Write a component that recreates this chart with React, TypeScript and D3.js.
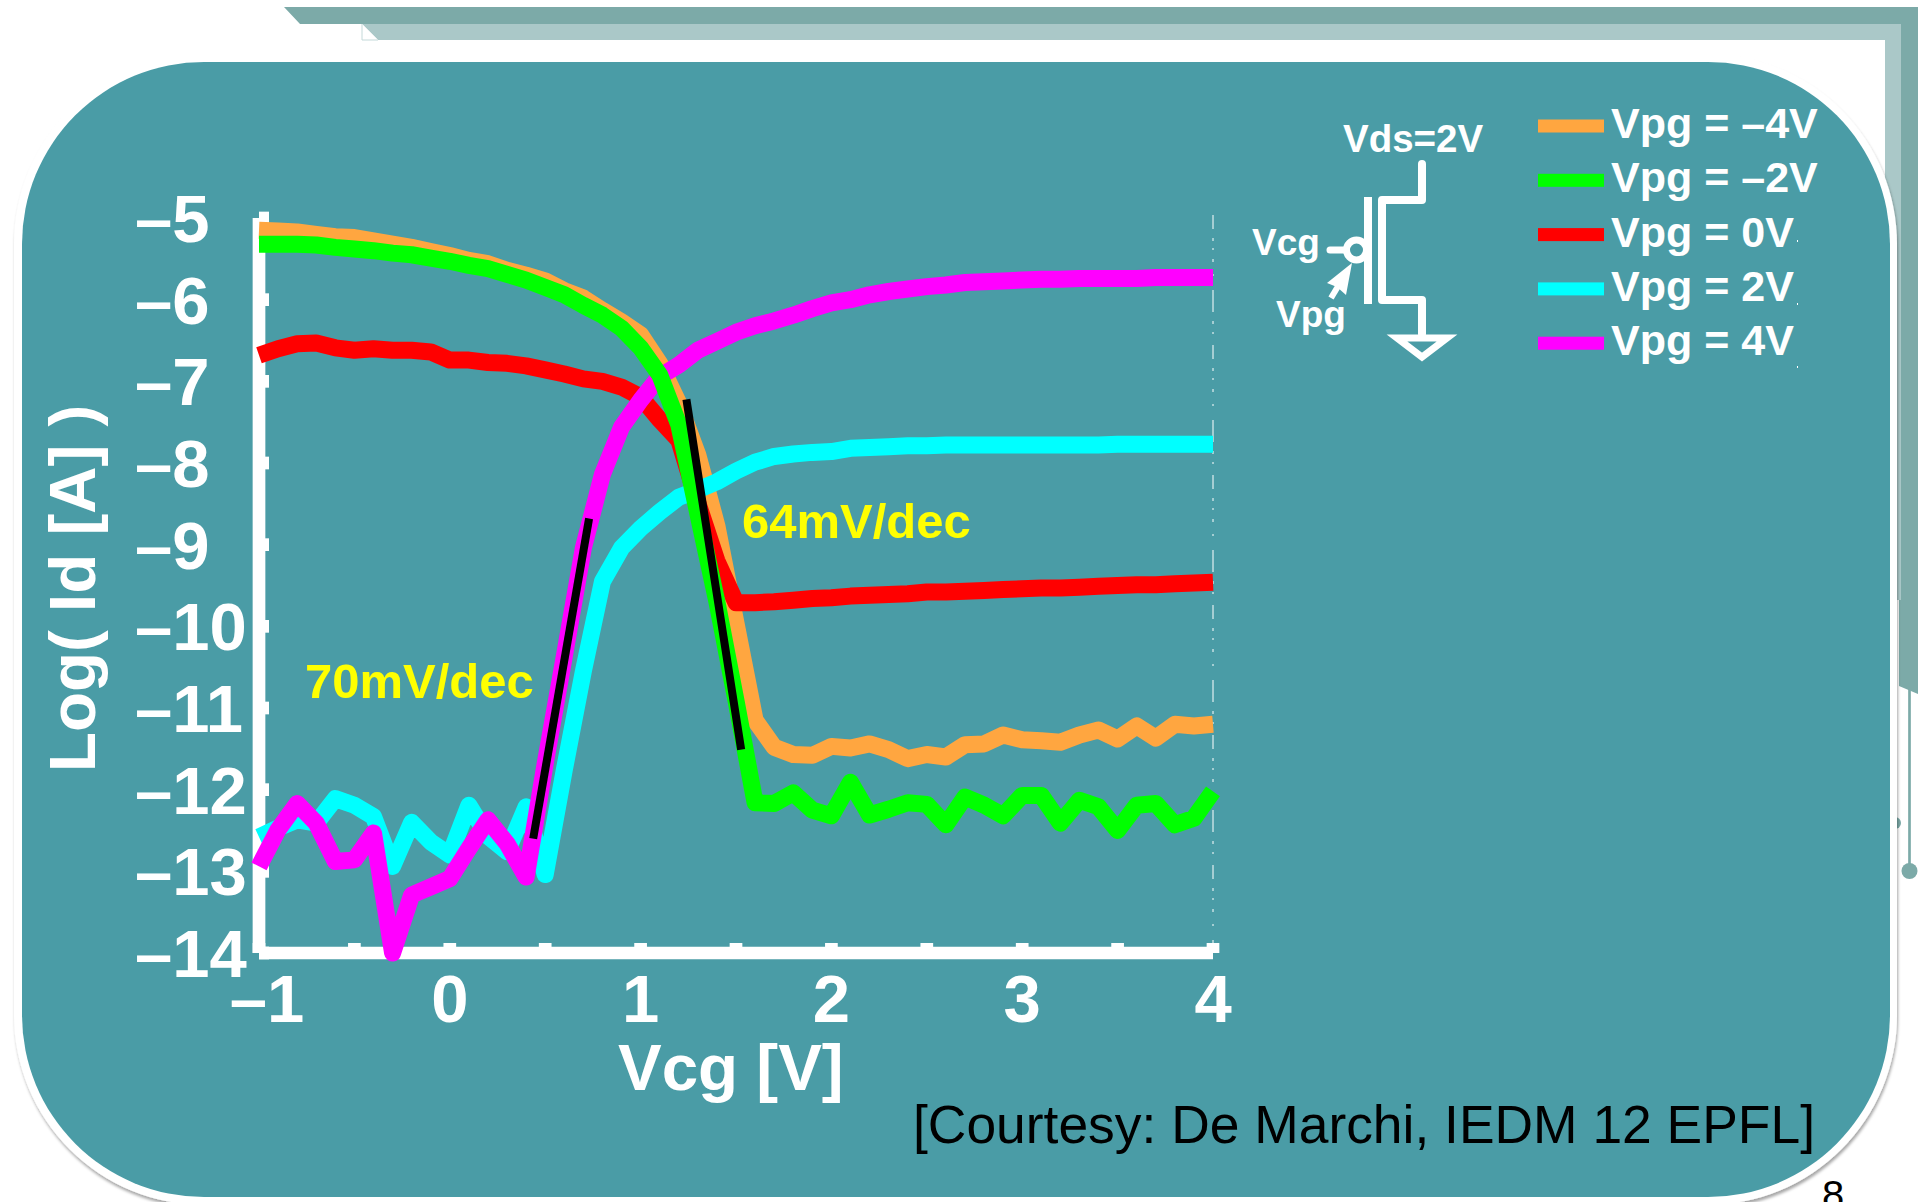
import React, { useEffect, useRef } from 'react';
import * as d3 from 'd3';

// gate sweep, 100mV steps
const vcg = [
  -1.0, -0.9, -0.8, -0.7, -0.6, -0.5, -0.4, -0.3, -0.2, -0.1,
  0.0, 0.1, 0.2, 0.3, 0.4, 0.5, 0.6, 0.7, 0.8, 0.9,
  1.0, 1.1, 1.2, 1.3, 1.4, 1.5, 1.6, 1.7, 1.8, 1.9,
  2.0, 2.1, 2.2, 2.3, 2.4, 2.5, 2.6, 2.7, 2.8, 2.9,
  3.0, 3.1, 3.2, 3.3, 3.4, 3.5, 3.6, 3.7, 3.8, 3.9, 4.0,
];

const vpgMinus4 = [
  -5.15, -5.16, -5.17, -5.20, -5.23, -5.24, -5.28, -5.32, -5.36, -5.41,
  -5.46, -5.52, -5.56, -5.64, -5.70, -5.77, -5.89, -5.98, -6.13, -6.27,
  -6.43, -6.78, -7.27, -7.90, -8.77, -9.96, -11.15, -11.48, -11.57, -11.58,
  -11.47, -11.49, -11.44, -11.51, -11.62, -11.57, -11.60, -11.45, -11.44, -11.33,
  -11.39, -11.40, -11.42, -11.33, -11.27, -11.38, -11.22, -11.37, -11.20, -11.22, -11.20,
];
const vpgMinus2 = [
  -5.32, -5.32, -5.32, -5.33, -5.36, -5.38, -5.40, -5.43, -5.45, -5.49,
  -5.53, -5.58, -5.62, -5.69, -5.76, -5.85, -5.94, -6.07, -6.19, -6.35,
  -6.59, -6.92, -7.53, -8.62, -9.70, -10.91, -12.16, -12.17, -12.04, -12.25,
  -12.32, -11.91, -12.31, -12.24, -12.16, -12.18, -12.43, -12.09, -12.19, -12.32,
  -12.07, -12.07, -12.41, -12.13, -12.21, -12.50, -12.19, -12.17, -12.43, -12.35, -12.02,
];
const vpgZero = [
  -6.68, -6.60, -6.54, -6.53, -6.59, -6.62, -6.60, -6.62, -6.62, -6.64,
  -6.74, -6.74, -6.77, -6.78, -6.81, -6.86, -6.91, -6.97, -7.00, -7.07,
  -7.19, -7.47, -7.72, -8.49, -9.20, -9.71, -9.71, -9.70, -9.68, -9.66,
  -9.65, -9.63, -9.62, -9.61, -9.60, -9.58, -9.58, -9.57, -9.56, -9.55,
  -9.54, -9.53, -9.53, -9.52, -9.51, -9.50, -9.49, -9.49, -9.48, -9.47, -9.46,
];
const vpgPlus2 = [
  -12.58, -12.47, -12.37, -12.41, -12.11, -12.19, -12.33, -12.94, -12.40, -12.64,
  -12.80, -12.19, -12.57, -12.76, -12.21, -13.04, -11.76, -10.55, -9.45, -9.04,
  -8.80, -8.60, -8.42, -8.33, -8.23, -8.10, -7.99, -7.92, -7.89, -7.87,
  -7.86, -7.82, -7.81, -7.80, -7.79, -7.79, -7.78, -7.78, -7.78, -7.78,
  -7.78, -7.78, -7.78, -7.78, -7.78, -7.77, -7.77, -7.77, -7.77, -7.77, -7.77,
];
const vpgPlus4 = [
  -12.94, -12.49, -12.17, -12.41, -12.88, -12.86, -12.53, -14.0, -13.29, -13.19,
  -13.09, -12.72, -12.37, -12.66, -13.07, -11.68, -10.37, -9.04, -8.14, -7.56,
  -7.23, -6.94, -6.80, -6.62, -6.51, -6.40, -6.32, -6.26, -6.19, -6.11,
  -6.04, -6.00, -5.94, -5.90, -5.87, -5.84, -5.82, -5.79, -5.78, -5.77,
  -5.76, -5.75, -5.75, -5.74, -5.74, -5.74, -5.74, -5.73, -5.73, -5.73, -5.73,
];

// draw order differs from the legend order: green sits on top
const drawOrder = [
  { values: vpgMinus4, color: '#ffa640' },
  { values: vpgZero, color: '#ff0000' },
  { values: vpgPlus2, color: '#00ffff' },
  { values: vpgPlus4, color: '#ff00ff' },
  { values: vpgMinus2, color: '#00ff00' },
];

const legendLabels = ['Vpg = –4V', 'Vpg = –2V', 'Vpg = 0V', 'Vpg = 2V', 'Vpg = 4V'];
const legendColors = ['#ffa640', '#00ff00', '#ff0000', '#00ffff', '#ff00ff'];

// subthreshold slope fits, [Vcg, log Id]
const slopeFits = [
  [[0.437, -12.6], [0.73, -8.68]],
  [[1.24, -7.22], [1.527, -11.51]],
];

const xTicks = [-1, -0.5, 0, 0.5, 1, 1.5, 2, 2.5, 3, 3.5, 4];
const yTicks = [-14, -13, -12, -11, -10, -9, -8, -7, -6, -5];

const FONT = '"Liberation Sans", Arial, sans-serif';
const TEAL = '#4a9ca6';

export default function App() {
  const svgRef = useRef<SVGSVGElement>(null);

  useEffect(() => {
    if (!svgRef.current) return;
    const svg = d3.select(svgRef.current);
    svg.selectAll('*').remove();

    const xScale = d3.scaleLinear().domain([-1, 4]).range([259, 1213]);
    const yScale = d3.scaleLinear().domain([-14, -5]).range([953, 218]);

    // slide decoration behind the panel
    const deco = svg.append('g');
    deco.append('path').attr('d', 'M284,7 H1918 V694 L1899,686 V24 H300 Z').attr('fill', '#7caaa8');
    deco.append('path').attr('d', 'M362,24 H1901 V600 H1885 V40 H378 Z').attr('fill', '#aac8c8');
    deco.append('path').attr('d', 'M362,24 V40 H378').attr('fill', 'white').attr('stroke', '#c4d9d9');
    deco.append('line').attr('x1', 1909.5).attr('x2', 1909.5).attr('y1', 688).attr('y2', 871)
      .attr('stroke', '#7caaa8').attr('stroke-width', 2.7);
    deco.append('circle').attr('cx', 1909.5).attr('cy', 871).attr('r', 8).attr('fill', '#7caaa8');
    deco.append('circle').attr('cx', 1895).attr('cy', 823).attr('r', 6).attr('fill', '#7caaa8');

    // panel
    const defs = svg.append('defs');
    const shadow = defs.append('filter').attr('id', 'panelShadow')
      .attr('x', '-5%').attr('y', '-5%').attr('width', '110%').attr('height', '110%');
    shadow.append('feDropShadow').attr('dx', 1).attr('dy', 3).attr('stdDeviation', 1.5)
      .attr('flood-color', '#000').attr('flood-opacity', 0.35);
    svg.append('rect').attr('x', 14).attr('y', 54).attr('width', 1883).attr('height', 1151)
      .attr('rx', 190).attr('fill', 'white').attr('filter', 'url(#panelShadow)');
    svg.append('rect').attr('x', 22).attr('y', 62).attr('width', 1868).attr('height', 1135)
      .attr('rx', 182).attr('fill', TEAL);

    // right edge dotted line
    svg.append('line').attr('x1', 1213).attr('x2', 1213).attr('y1', 215).attr('y2', 945)
      .attr('stroke', 'white').attr('stroke-width', 1)
      .attr('stroke-dasharray', '14 9 3 7 2 9 3 12 2 14 22 9 3 8 2 11');

    // Axes
    const xAxis = svg.append('g')
      .attr('transform', 'translate(0, 953)')
      .call(d3.axisBottom(xScale).tickValues(xTicks).tickSize(-10).tickSizeOuter(0).offset(0)
        .tickFormat(d => (Number.isInteger(+d) ? String(d).replace('-', '–') : '')));
    const yAxis = svg.append('g')
      .attr('transform', 'translate(259, 0)')
      .call(d3.axisLeft(yScale).tickValues(yTicks).tickSize(-10).tickSizeOuter(0).offset(0)
        .tickFormat(d => String(d).replace('-', '–')));

    [xAxis, yAxis].forEach(axis => {
      axis.attr('fill', null).attr('font-family', null).attr('font-size', null);
      axis.selectAll('.domain').attr('stroke', 'white').attr('stroke-width', 12.7);
      axis.selectAll('.tick line').attr('stroke', 'white').attr('stroke-width', 12.7);
      axis.selectAll('text').attr('fill', 'white')
        .attr('font-family', FONT).attr('font-size', 67).attr('font-weight', 700);
    });
    xAxis.selectAll('.tick text').attr('y', 69).attr('dy', 0)
      .attr('dx', (d: any) => (d === -1 ? 8 : 0));
    yAxis.selectAll('.tick text').attr('x', -124).attr('y', 24).attr('dy', 0)
      .attr('text-anchor', 'start');

    // Curves
    const line = d3.line<number>()
      .x((_, i) => xScale(vcg[i]))
      .y(d => yScale(d));
    svg.append('g')
      .selectAll('path')
      .data(drawOrder)
      .enter()
      .append('path')
      .attr('d', d => line(d.values))
      .attr('fill', 'none')
      .attr('stroke', d => d.color)
      .attr('stroke-width', 17)
      .attr('stroke-linejoin', 'round');

    svg.append('g')
      .selectAll('line')
      .data(slopeFits)
      .enter()
      .append('line')
      .attr('x1', d => xScale(d[0][0]))
      .attr('y1', d => yScale(d[0][1]))
      .attr('x2', d => xScale(d[1][0]))
      .attr('y2', d => yScale(d[1][1]))
      .attr('stroke', 'black')
      .attr('stroke-width', 8);

    const addText = (txt: string, x: number, y: number, size: number, color = 'white', weight = 700) =>
      svg.append('text').attr('x', x).attr('y', y).text(txt)
        .attr('font-family', FONT).attr('font-size', size)
        .attr('font-weight', weight).attr('fill', color);

    addText('Vcg [V]', 618, 1090, 65.5);
    addText('Log( Id [A] )', 0, 0, 65.5).attr('transform', 'translate(95, 772) rotate(-90)');
    addText('70mV/dec', 305, 698, 49, '#ffff00');
    addText('64mV/dec', 742, 538, 49, '#ffff00');
    addText('[Courtesy: De Marchi, IEDM 12 EPFL]', 913, 1143, 53.4, 'black', 400);
    addText('8', 1822, 1209, 40, 'black', 400);

    // Legend
    legendLabels.forEach((label, i) => {
      const cy = 126 + i * 54.3;
      svg.append('rect').attr('x', 1538).attr('y', cy - 6.5).attr('width', 66).attr('height', 13)
        .attr('fill', legendColors[i]);
      addText(label, 1611, 138 + i * 54.3, 43);
    });

    // Transistor symbol
    const sym = svg.append('g').attr('fill', 'none').attr('stroke', 'white');
    sym.append('path').attr('d', 'M1422,164 V200 H1382 V300 H1422 V334')
      .attr('stroke-width', 8).attr('stroke-linejoin', 'round').attr('stroke-linecap', 'round');
    sym.append('path').attr('d', 'M1368,197 V304').attr('stroke-width', 8);
    sym.append('circle').attr('cx', 1356.5).attr('cy', 250).attr('r', 10).attr('stroke-width', 7);
    sym.append('path').attr('d', 'M1330,250 H1346').attr('stroke-width', 7).attr('stroke-linecap', 'round');
    sym.append('path').attr('d', 'M1397,338 H1447 L1422,357 Z').attr('stroke-width', 7);
    sym.append('path').attr('d', 'M1331,298 L1343,278').attr('stroke-width', 6);
    svg.append('path').attr('d', 'M1352,263 L1346,295 L1337,287 L1327,283 Z').attr('fill', 'white');
    addText('Vds=2V', 1343, 152, 38.5);
    addText('Vcg', 1252, 255, 37);
    addText('Vpg', 1276, 327, 37);

    // stray specks next to the legend
    svg.append('g').selectAll('rect').data([240, 303, 366]).enter().append('rect')
      .attr('x', 1797).attr('y', d => d).attr('width', 1).attr('height', 2).attr('fill', 'white');
  }, []);

  return (
    <svg
      ref={svgRef}
      width={1918}
      height={1202}
      viewBox="0 0 1918 1202"
      style={{ position: 'absolute', top: 0, left: 0, display: 'block', background: 'white' }}
    />
  );
}
